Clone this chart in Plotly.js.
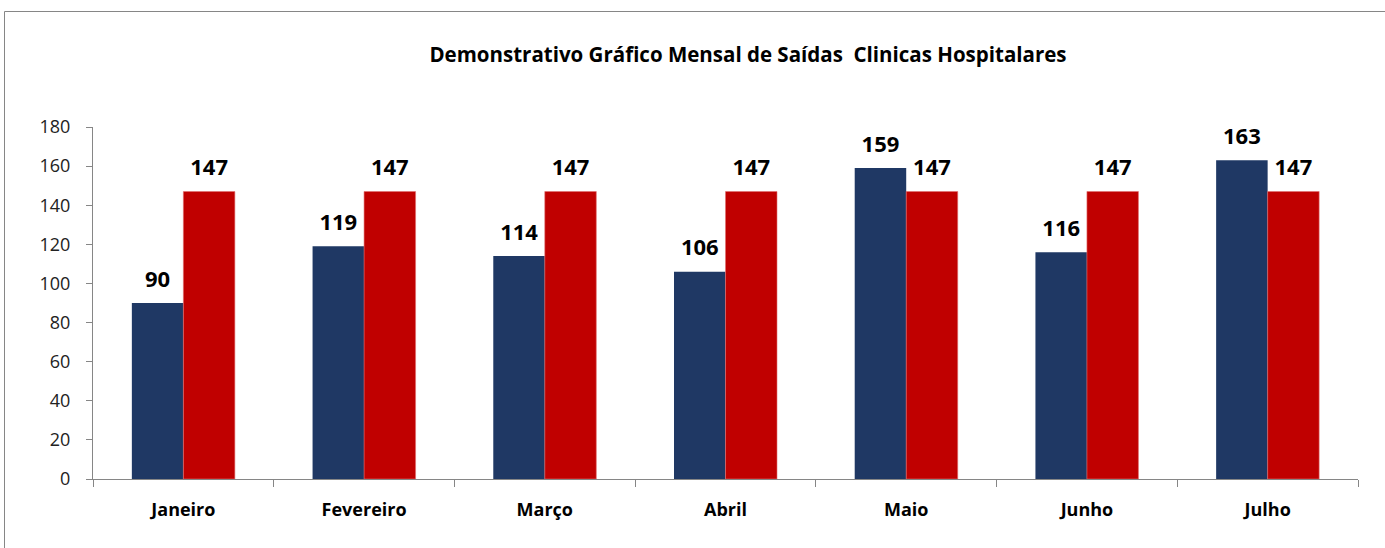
<!DOCTYPE html>
<html>
<head>
<meta charset="utf-8">
<script src="https://cdn.plot.ly/plotly-3.0.1.min.js"></script>
<style>html,body{margin:0;padding:0;background:#fff;}#chart{width:1385px;height:548px;}</style>
</head>
<body>
<div id="chart"></div>
<script>
const months = ["Janeiro", "Fevereiro", "Março", "Abril", "Maio", "Junho", "Julho"];
const saidas = [90, 119, 114, 106, 159, 116, 163];
const meta = [147, 147, 147, 147, 147, 147, 147];
const yTicks = [0, 20, 40, 60, 80, 100, 120, 140, 160, 180];
const titleText = "Demonstrativo Gráfico Mensal de Saídas  Clinicas Hospitalares";

const W = 1385, H = 548;
const m = {l: 93, r: 27, t: 127, b: 69};
const pw = W - m.l - m.r, ph = H - m.t - m.b;
const px = v => (v - m.l) / pw;
const py = v => (H - m.b - v) / ph;

const lblFont = {family: "Open Sans", size: 22, color: "#000000", weight: "bold"};

const traces = [
  {type: "bar", x: months, y: saidas, name: "Saídas", offsetgroup: "a",
   marker: {color: "#1F3864"}, hoverinfo: "x+y"},
  {type: "bar", x: months, y: meta, name: "Meta", offsetgroup: "b",
   marker: {color: "#C00000", line: {color: "#E07070", width: 0.6}}, hoverinfo: "x+y"},
  {type: "scatter", mode: "markers+text", x: months, y: saidas, offsetgroup: "a",
   text: saidas.map(String), textposition: "top center", textfont: lblFont,
   marker: {size: 16, opacity: 0}, hoverinfo: "skip", showlegend: false, cliponaxis: false},
  {type: "scatter", mode: "markers+text", x: months, y: meta, offsetgroup: "b",
   text: meta.map(String), textposition: "top center", textfont: lblFont,
   marker: {size: 16, opacity: 0}, hoverinfo: "skip", showlegend: false, cliponaxis: false}
];

const layout = {
  width: W, height: H,
  margin: m,
  paper_bgcolor: "#ffffff", plot_bgcolor: "#ffffff",
  barmode: "group", bargap: 0.43, bargroupgap: 0,
  scattermode: "group", scattergap: 0.43,
  showlegend: false,
  font: {family: "Open Sans", color: "#000000"},
  title: {text: titleText, font: {family: "Open Sans", size: 20.5, color: "#000000", weight: "bold"},
          x: px(748), xref: "paper", xanchor: "center", y: 1 - 55 / H, yanchor: "middle"},
  xaxis: {type: "category", showgrid: false, zeroline: false,
          showline: true, linecolor: "#868686", linewidth: 1,
          ticks: "outside", tickson: "boundaries", ticklen: 7, tickcolor: "#868686",
          tickfont: {family: "Open Sans", size: 18, color: "#000000", weight: "bold"},
          ticklabelstandoff: 14, fixedrange: true},
  yaxis: {range: [0, 180], tickvals: yTicks, showgrid: false, zeroline: false,
          showline: true, linecolor: "#868686", linewidth: 1,
          ticks: "outside", ticklen: 6, tickcolor: "#868686",
          tickfont: {family: "Open Sans", size: 18, color: "#222222"},
          ticklabelstandoff: 12, fixedrange: true},
  shapes: [
    {type: "rect", xref: "paper", yref: "paper",
     x0: px(4.5), x1: px(1395), y0: py(560), y1: py(11.5),
     line: {color: "#868686", width: 1}, fillcolor: "rgba(0,0,0,0)", layer: "below"}
  ]
};

Plotly.newPlot("chart", traces, layout, {displayModeBar: false, staticPlot: true});
</script>
</body>
</html>
